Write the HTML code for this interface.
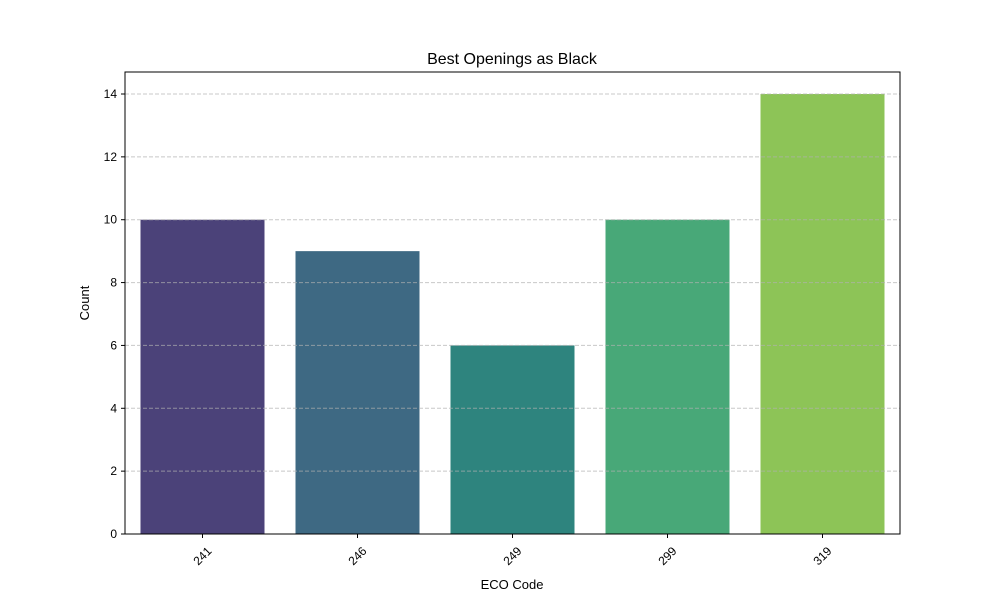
<!DOCTYPE html>
<html><head><meta charset="utf-8"><style>
body{margin:0;background:#fff;}
svg text{font-family:"Liberation Sans","DejaVu Sans",sans-serif;fill:#000;}
</style></head><body>
<svg id="chart" width="1000" height="600" viewBox="0 0 1000 600">
<rect x="0" y="0" width="1000" height="600" fill="#fff"/>
<text x="512" y="64" font-size="16" text-anchor="middle">Best Openings as Black</text>
<g id="bars"></g>
<g id="grid"></g>
<g id="yticks"></g>
<g id="xticks"></g>
<rect x="125" y="72" width="775" height="462" fill="none" stroke="#000" stroke-width="1"/>
<text x="512" y="589" font-size="13" text-anchor="middle">ECO Code</text>
<text transform="translate(89,303) rotate(-90)" font-size="13" text-anchor="middle">Count</text>
</svg>
<script>
const categories = ["241","246","249","299","319"];
const counts = [10,9,6,10,14];
const colors = ["#4b4279","#3e6983","#2e847e","#48a878","#8dc457"];
const yTicks = [0,2,4,6,8,10,12,14];
const NS="http://www.w3.org/2000/svg";
const X0=125,X1=900,Y0=534,YT=72,YMAX=14.7;
const step=(X1-X0)/categories.length;
function xc(i){return X0+step*(i+0.5);}
function y(v){return Y0-(v/YMAX)*(Y0-YT);}
function mk(tag,attrs,parent){const e=document.createElementNS(NS,tag);for(const k in attrs)e.setAttribute(k,attrs[k]);parent.appendChild(e);return e;}
const bars=document.getElementById('bars'),grid=document.getElementById('grid'),yt=document.getElementById('yticks'),xt=document.getElementById('xticks');
categories.forEach((c,i)=>{
  const w=step*0.8;
  const r=mk('rect',{x:xc(i)-w/2,y:y(counts[i]),width:w,height:Y0-y(counts[i]),fill:colors[i]},bars);
  
  
  const t=mk('line',{x1:xc(i),x2:xc(i),y1:Y0,y2:Y0+4,stroke:'#000'},xt);
  
  
  const l=mk('text',{'font-size':12,'text-anchor':'middle',transform:`translate(${xc(i)},${Y0+22}) rotate(-45)`,dy:'4'},xt);
  l.textContent=c;
  
  
});
yTicks.forEach(v=>{
  if(v>0){const g=mk('line',{x1:X0,x2:X1,y1:y(v),y2:y(v),stroke:'#b0b0b0','stroke-opacity':0.7,'stroke-dasharray':'4,2'},grid);
  
  }
  const t=mk('line',{x1:X0-4,x2:X0,y1:y(v),y2:y(v),stroke:'#000'},yt);
  
  
  const l=mk('text',{x:X0-8,y:y(v)+4,'font-size':12,'text-anchor':'end'},yt);
  l.textContent=v;
  
  
});
</script>
</body></html>
